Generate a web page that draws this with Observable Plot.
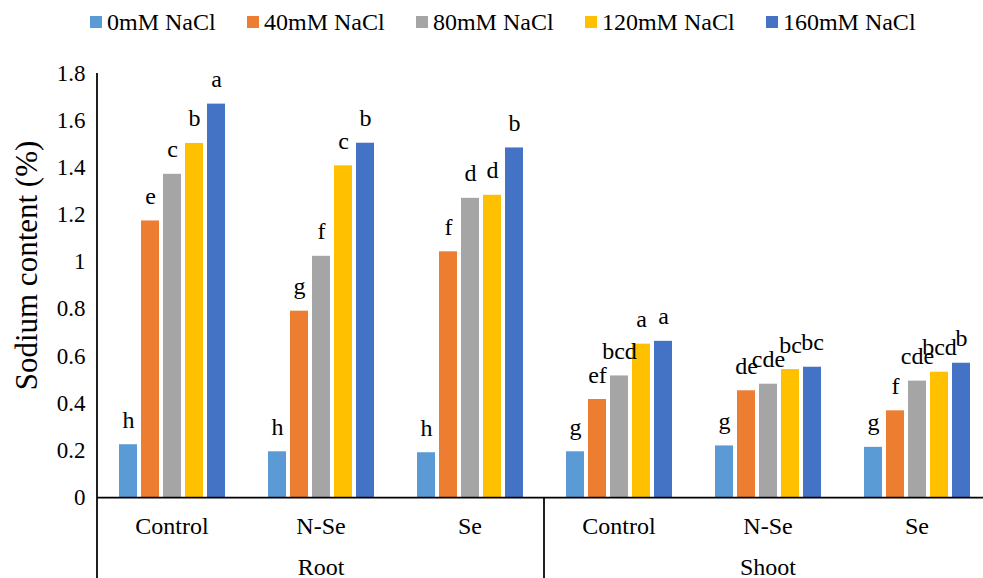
<!DOCTYPE html>
<html><head><meta charset="utf-8">
<script src="https://cdn.jsdelivr.net/npm/d3@7"></script>
<script src="https://cdn.jsdelivr.net/npm/@observablehq/plot@0.6"></script>
<style>
body{margin:0;background:#fff;}
#legend{height:44px;display:flex;align-items:center;padding-left:90px;font-family:"Liberation Serif",serif;font-size:24px;line-height:1;color:#000;box-sizing:border-box;}
.item{display:flex;align-items:center;margin-right:31.3px;white-space:nowrap;}
.sw{width:12px;height:12px;margin-right:5px;flex:none;}
#chart svg{display:block;}
</style></head><body>
<div id="legend"></div>
<div id="chart"></div>
<script>
const organs = ["Root", "Shoot"];
const treatments = ["Control", "N-Se", "Se"];
const series = ["0mM NaCl", "40mM NaCl", "80mM NaCl", "120mM NaCl", "160mM NaCl"];
const colors = ["#5B9BD5", "#ED7D31", "#A5A5A5", "#FFC000", "#4472C4"];
// values per series, groups in order Root Control, Root N-Se, Root Se, Shoot Control, Shoot N-Se, Shoot Se
const v0   = [0.224, 0.194, 0.190, 0.194, 0.219, 0.213];
const v40  = [1.174, 0.791, 1.043, 0.416, 0.453, 0.368];
const v80  = [1.372, 1.024, 1.270, 0.516, 0.481, 0.494];
const v120 = [1.503, 1.408, 1.283, 0.651, 0.543, 0.532];
const v160 = [1.670, 1.504, 1.484, 0.663, 0.553, 0.570];
const l0   = ["h", "h", "h", "g", "g", "g"];
const l40  = ["e", "g", "f", "ef", "de", "f"];
const l80  = ["c", "f", "d", "bcd", "cde", "cde"];
const l120 = ["b", "c", "d", "a", "bc", "bcd"];
const l160 = ["a", "b", "b", "a", "bc", "b"];
const yTicks = [0, 0.2, 0.4, 0.6, 0.8, 1, 1.2, 1.4, 1.6, 1.8];
const yTitle = "Sodium content (%)";

const values = [v0, v40, v80, v120, v160];
const letters = [l0, l40, l80, l120, l160];
const groups = organs.flatMap(o => treatments.map(t => `${o}|${t}`));
const rows = [];
series.forEach((s, i) => groups.forEach((g, j) => rows.push({group: g, series: s, value: values[i][j], letter: letters[i][j]})));
const orgLabels = organs.map(o => ({group: `${o}|${treatments[1]}`, label: o}));

// legend
const lg = d3.select("#legend");
series.forEach((s, i) => {
  const it = lg.append("div").attr("class", "item");
  it.append("div").attr("class", "sw").style("background", colors[i]);
  it.append("span").text(s);
});

const plot = Plot.plot({
  width: 983, height: 534,
  marginTop: 29, marginBottom: 81, marginLeft: 97, marginRight: 0,
  style: {fontFamily: '"Liberation Serif", serif', fontSize: "24px", color: "#000", background: "#fff"},
  fx: {domain: groups, range: [97, 991], padding: 0},
  x: {domain: series, paddingInner: 0.2, paddingOuter: 0.853, axis: null},
  y: {domain: [0, 1.8]},
  color: {domain: series, range: colors},
  marks: [
    Plot.barY(rows, {fx: "group", x: "series", y: "value", fill: "series"}),
    Plot.text(rows, {fx: "group", x: "series", y: "value", text: "letter", lineAnchor: "bottom", dy: -17, fontSize: 24, fill: "#000"}),
    Plot.ruleY([0], {stroke: "#000", strokeWidth: 1.75}),
    Plot.axisY({ticks: yTicks, tickSize: 0, tickPadding: 12, fontSize: 23, tickFormat: d => String(d), label: null}),
    Plot.axisFx({anchor: "bottom", tickSize: 0, tickPadding: 19, fontSize: 24, tickFormat: d => d.split("|")[1], label: null}),
    Plot.text(orgLabels, {fx: "group", text: "label", frameAnchor: "bottom", lineAnchor: "bottom", dy: 77, fontSize: 24, fill: "#000"}),
    Plot.text([yTitle], {text: d => d, frameAnchor: "left", textAnchor: "middle", lineAnchor: "middle", rotate: -90, dx: -70, dy: -20, fontSize: 31, fill: "#000", facetAnchor: "left"})
  ]
});

const fxs = plot.scale("fx");
const ys = plot.scale("y");
const svg = d3.select(plot);
const H = 534;
const lines = [
  {x: fxs.apply(groups[0]), y1: ys.apply(1.8), y2: H},
  {x: fxs.apply(`${organs[1]}|${treatments[0]}`), y1: ys.apply(0), y2: H}
];
lines.forEach(l => svg.append("line").attr("x1", l.x).attr("x2", l.x).attr("y1", l.y1).attr("y2", l.y2).attr("stroke", "#000").attr("stroke-width", 1.75));
document.getElementById("chart").appendChild(plot);
</script>
</body></html>
